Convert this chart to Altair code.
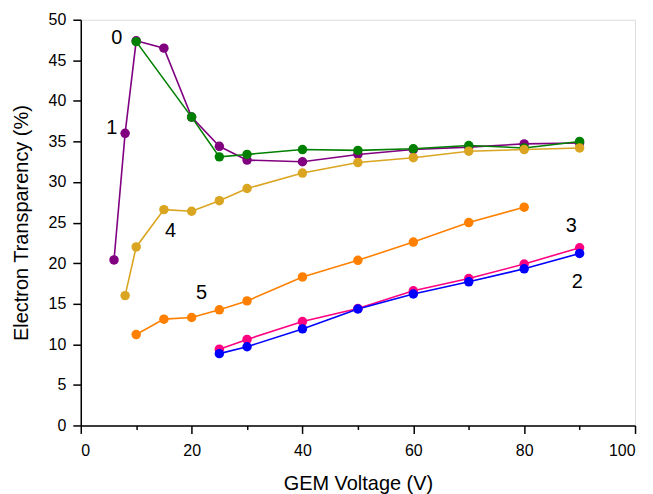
import altair as alt
import pandas as pd

# Series data (GEM voltage in V, electron transparency in %)
x0 = [10, 20, 25, 30, 40, 50, 60, 70, 80, 90]
y0 = [47.3, 38.0, 33.1, 33.4, 34.0, 33.9, 34.1, 34.5, 34.2, 35.0]

x1 = [6, 8, 10, 15, 20, 25, 30, 40, 50, 60, 70, 80, 90]
y1 = [20.4, 36.0, 47.4, 46.5, 38.0, 34.4, 32.7, 32.5, 33.4, 34.0, 34.3, 34.7, 34.8]

x2 = [25, 30, 40, 50, 60, 70, 80, 90]
y2 = [8.85, 9.7, 11.9, 14.35, 16.2, 17.7, 19.3, 21.2]

x3 = [25, 30, 40, 50, 60, 70, 80, 90]
y3 = [9.4, 10.6, 12.8, 14.4, 16.6, 18.1, 19.9, 21.9]

x4 = [8, 10, 15, 20, 25, 30, 40, 50, 60, 70, 80, 90]
y4 = [16.0, 22.0, 26.6, 26.4, 27.7, 29.2, 31.1, 32.4, 33.0, 33.8, 34.0, 34.2]

x5 = [10, 15, 20, 25, 30, 40, 50, 60, 70, 80]
y5 = [11.2, 13.1, 13.3, 14.25, 15.35, 18.3, 20.35, 22.6, 25.0, 26.9]

series_names = ["1", "0", "4", "5", "3", "2"]
series_colors = ["#800080", "#008000", "#DAA520", "#FF8000", "#FF0080", "#0000FF"]

# Curve labels
label_text = ["0", "1", "4", "5", "3", "2"]
label_x = [6.5, 5.6, 16.2, 21.8, 88.5, 89.6]
label_y = [47.8, 36.7, 24.0, 16.3, 24.6, 17.7]

x_ticks = [0, 10, 20, 30, 40, 50, 60, 70, 80, 90, 100]
y_ticks = [v / 2 for v in range(0, 101, 5)]

rows = []
for name, xs, ys in [("1", x1, y1), ("0", x0, y0), ("4", x4, y4),
                     ("5", x5, y5), ("3", x3, y3), ("2", x2, y2)]:
    for i, (a, b) in enumerate(zip(xs, ys)):
        rows.append({"series": name, "V": a, "T": b, "order": i})
df = pd.DataFrame(rows)
labels = pd.DataFrame({"text": label_text, "V": label_x, "T": label_y})

FONT = "Liberation Sans"

xscale = alt.Scale(domain=[0, 100], nice=False)
yscale = alt.Scale(domain=[0, 50], nice=False)

xaxis = alt.Axis(
    values=x_ticks,
    labelExpr="datum.value % 20 === 0 ? datum.label : ''",
    tickSize={"condition": {"test": "datum.value % 20 === 0", "value": 8}, "value": 4},
    grid=False, domainColor="black", tickColor="black", labelColor="black",
    labelFont=FONT, labelFontSize=16, labelPadding=9,
    titleFont=FONT, titleFontSize=20, titleFontWeight="normal", titlePadding=15,
    domainWidth=1.5, tickWidth=1.5,
)
yaxis = alt.Axis(
    values=y_ticks,
    labelExpr="datum.value % 5 === 0 ? datum.label : ''",
    tickSize={"condition": {"test": "datum.value % 5 === 0", "value": 8}, "value": 4},
    grid=False, domainColor="black", tickColor="black", labelColor="black",
    labelFont=FONT, labelFontSize=16, labelPadding=7,
    titleFont=FONT, titleFontSize=20, titleFontWeight="normal", titlePadding=17,
    domainWidth=1.5, tickWidth=1.5,
)

color = alt.Color("series:N", scale=alt.Scale(domain=series_names, range=series_colors),
                  legend=None)

base = alt.Chart(df).encode(
    x=alt.X("V:Q", scale=xscale, axis=xaxis, title="GEM Voltage (V)"),
    y=alt.Y("T:Q", scale=yscale, axis=yaxis, title="Electron Transparency (%)"),
    color=color,
)

lines = base.mark_line(strokeWidth=1.6).encode(order="order:Q")
points = base.mark_circle(size=90, opacity=1)

texts = alt.Chart(labels).mark_text(font=FONT, fontSize=20, color="black").encode(
    x=alt.X("V:Q", scale=xscale),
    y=alt.Y("T:Q", scale=yscale),
    text="text:N",
)

chart = alt.layer(lines, points, texts).properties(
    width=556, height=407,
    autosize=alt.AutoSizeParams(type="none"),
    padding={"left": 73, "top": 11, "right": 10, "bottom": 68},
).configure_view(stroke=None).configure(background="white")

chart.save("out.html", embed_options={"renderer": "svg", "actions": False})
